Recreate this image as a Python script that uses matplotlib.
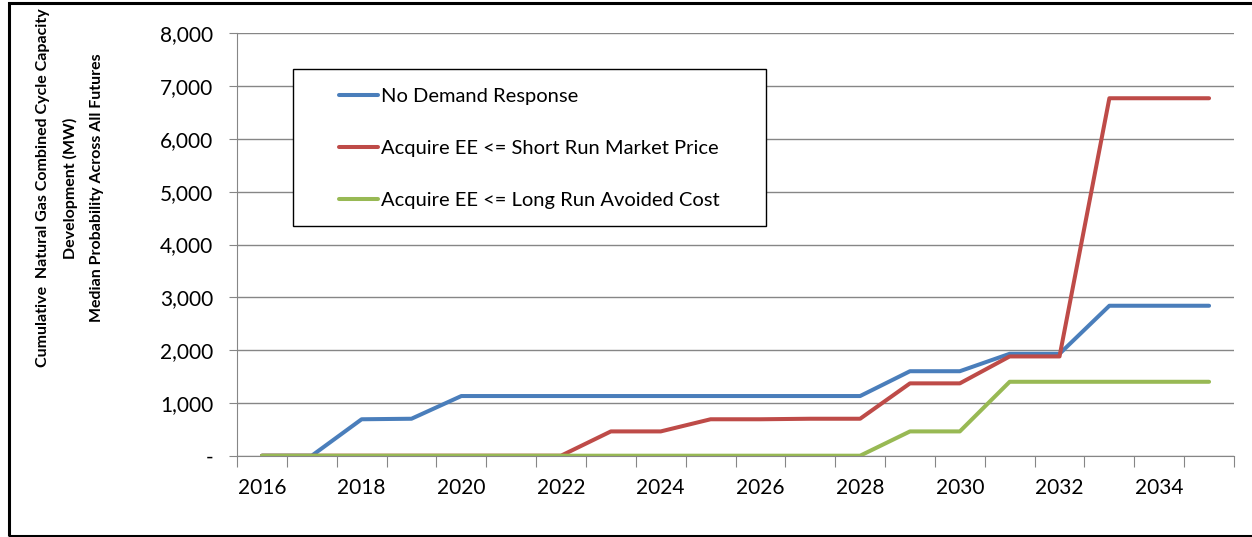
import matplotlib.pyplot as plt
from matplotlib.patches import Rectangle
from matplotlib.ticker import FuncFormatter

years = list(range(2016, 2036))
no_dr = [0, 0, 690, 700, 1130, 1130, 1130, 1130, 1130, 1130,
         1130, 1130, 1130, 1600, 1600, 1930, 1930, 2840, 2840, 2840]
short_run = [0, 0, 0, 0, 0, 0, 0, 460, 460, 690,
             690, 700, 700, 1370, 1370, 1880, 1880, 6770, 6770, 6770]
long_run = [0, 0, 0, 0, 0, 0, 0, 0, 0, 0,
            0, 0, 0, 460, 460, 1400, 1400, 1400, 1400, 1400]
labels = ["No Demand Response",
          "Acquire EE <= Short Run Market Price",
          "Acquire EE <= Long Run Avoided Cost"]
colors = ["#4A7EBB", "#BE4B48", "#98B954"]

plt.rcParams["font.family"] = ["Lato", "DejaVu Sans"]

W, H = 1252, 537
fig = plt.figure(figsize=(W / 100, H / 100), dpi=100)
ax = fig.add_axes([237 / W, (H - 455.7) / H, 997 / W, 422.4 / H])

x = list(range(len(years)))
for series, lab, c in zip([no_dr, short_run, long_run], labels, colors):
    ax.plot(x, series, color=c, lw=2.9, label=lab, solid_capstyle="round")

ax.set_xlim(-0.5, len(years) - 0.5)
ax.set_ylim(0, 8000)
ax.set_yticks(range(0, 8001, 1000))
ax.yaxis.set_major_formatter(FuncFormatter(lambda v, p: "-" if v == 0 else f"{int(v):,}"))
ax.grid(axis="y", color="#868686", lw=1)
ax.set_axisbelow(True)

# boundaries between categories carry the tick marks, every other year is labelled
ax.set_xticks([i - 0.5 for i in range(len(years) + 1)])
ax.set_xticklabels([])
ax.set_xticks(x[::2], minor=True)
ax.set_xticklabels([str(y) for y in years[::2]], minor=True)
ax.tick_params(axis="x", which="major", length=8, color="#868686", direction="out")
ax.tick_params(axis="x", which="minor", length=0, pad=16, labelsize=15)
ax.tick_params(axis="y", length=6, color="#868686", pad=11, labelsize=15)

for s in ["top", "right"]:
    ax.spines[s].set_visible(False)
for s in ["left", "bottom"]:
    ax.spines[s].set_color("#868686")

leg = ax.legend(loc="upper left", bbox_to_anchor=(339 / W, 1 - 88 / H),
                bbox_transform=fig.transFigure, frameon=False, fontsize=14.5,
                handlelength=1.95, handletextpad=0.15, labelspacing=1.73,
                borderpad=0, borderaxespad=0)
leg.set_zorder(6)
ax.add_patch(Rectangle((293 / W, 1 - 226 / H), 473 / W, 157 / H,
                       transform=fig.transFigure, fill=True, fc="white",
                       ec="black", lw=1, zorder=5, clip_on=False))

fig.text(70 / W, 1 - 188 / H,
         "Cumulative  Natural Gas Combined Cycle Capacity\nDevelopment (MW)\n"
         "Median Probability Across All Futures",
         rotation=90, ha="center", va="center", multialignment="center",
         fontsize=11.5, fontweight="bold", linespacing=2.1)

# outer frame of the chart
fig.patches.append(Rectangle((8.5 / W, 1.5 / H), 1.2, 1 - 4 / H,
                             transform=fig.transFigure, fill=False,
                             ec="black", lw=2.2))

fig.savefig("out.png", dpi=100)
